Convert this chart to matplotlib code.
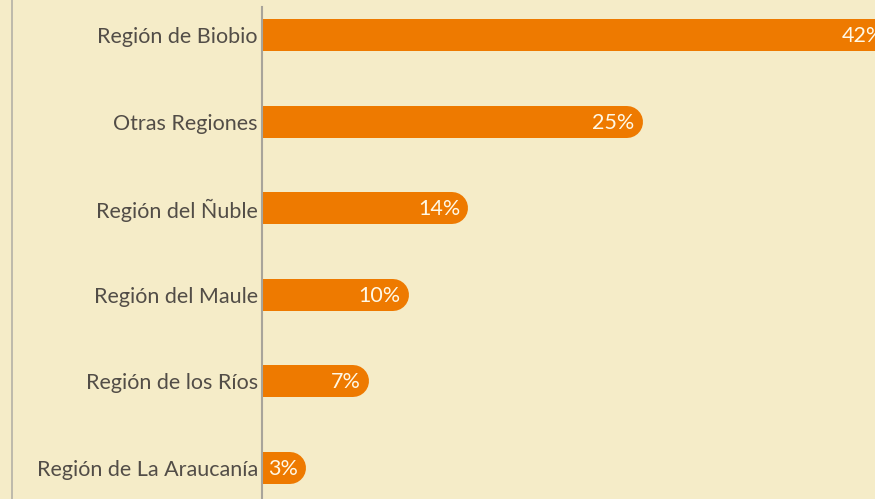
import matplotlib.pyplot as plt
import matplotlib.transforms as mtransforms

regions = ['Región de Biobio', 'Otras Regiones', 'Región del Ñuble',
           'Región del Maule', 'Región de los Ríos', 'Región de La Araucanía']
shares = [41.2, 24.9, 13.5, 9.6, 7.0, 2.9]
labels = ['42%', '25%', '14%', '10%', '7%', '3%']

BG = '#f5ecc8'
ORANGE = '#ee7a00'
TEXT = '#524d47'
LINE = '#a8a49a'

plt.rcParams['font.family'] = ['Lato', 'DejaVu Sans']

fig = plt.figure(figsize=(8.75, 4.99), dpi=100, facecolor=BG)
ax = fig.add_axes([262 / 875, 0, 1 - 262 / 875, 1 - 7 / 499])
ax.set_facecolor(BG)

# bar thickness 32 px, right end rounded -> thick line with round cap,
# shifted left by the cap radius, left cap clipped by the axes
bar_px = 32
r_in = bar_px / 2 / fig.dpi
shift = ax.transData + mtransforms.ScaledTranslation(-r_in, 0, fig.dpi_scale_trans)
for i, (v, lab) in enumerate(zip(shares, labels)):
    ax.plot([0, v], [i, i], color=ORANGE, lw=bar_px * 72 / fig.dpi,
            solid_capstyle='round', transform=shift)
    ax.annotate(lab, (v, i), xytext=(-8, -1), textcoords='offset pixels',
                ha='right', va='center', color='#fff8e6', fontsize=15.5,
                annotation_clip=False)

ax.set_xlim(0, 40.1)
ax.set_ylim(5.358, -0.323)
ax.set_yticks(range(len(regions)))
ax.set_yticklabels(regions, fontsize=15.5, color=TEXT)
ax.tick_params(axis='y', length=0, pad=3)
ax.set_xticks([])
for s in ['top', 'right', 'bottom']:
    ax.spines[s].set_visible(False)
ax.spines['left'].set_color(LINE)
ax.spines['left'].set_linewidth(1.5)

# thin border line on the far left
fig.add_artist(plt.Line2D([11.5 / 875, 11.5 / 875], [0, 1], color='#b4b0a6', lw=1.2))

plt.savefig('out.png', dpi=100, facecolor=BG)
